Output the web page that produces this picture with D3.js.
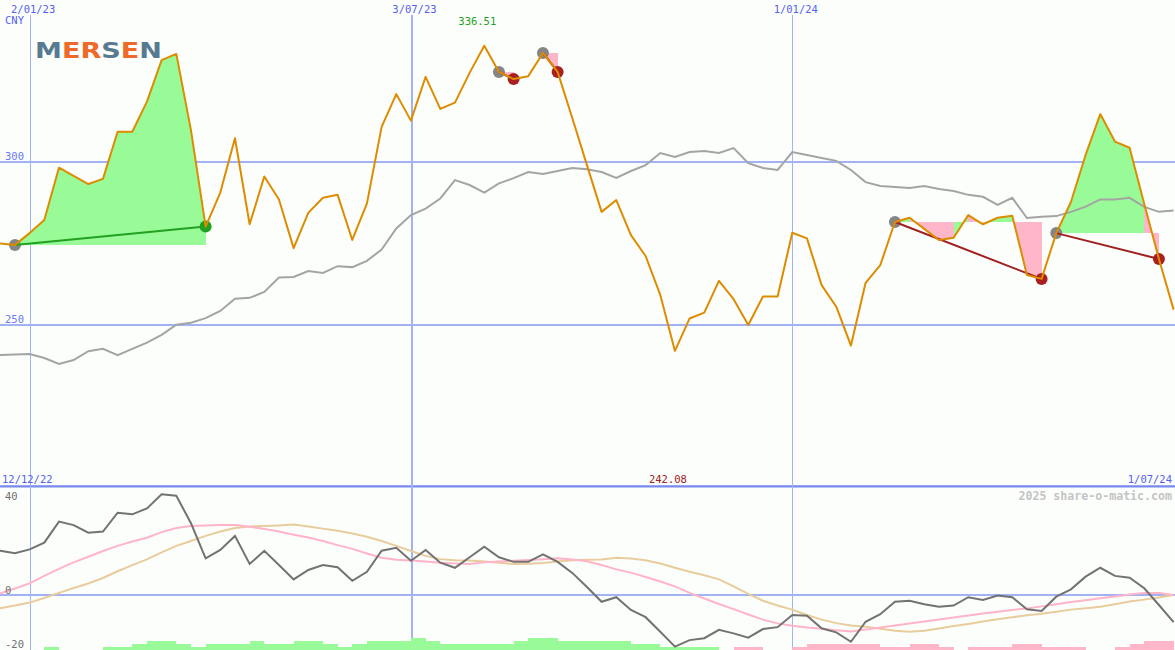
<!DOCTYPE html>
<html><head><meta charset="utf-8">
<script src="https://cdn.jsdelivr.net/npm/d3@7"></script>
<style>
html,body{margin:0;padding:0;background:#fcfefc;}
svg{display:block;}
</style></head><body>
<svg id="c" width="1175" height="650"></svg>
<script>
// ---------- data ----------
const startDate = "12/12/22";           // first weekly point
const gridDates = ["2/01/23", "3/07/23", "1/01/24"];
const priceTicks = [300, 250];
const oscTicks = [40, 0, -20];
const currency = "CNY";
const maxLabel = "336.51";
const minLabel = "242.08";
const brand = ["M", "E", "R", "S", "E", "N"];
const watermark = "2025 share-o-matic.com";

// weekly close (CNY)
const price = [274.9, 274.9, 274.5, 278.1, 282.1, 298.1, 295.6, 293.1, 294.7, 309.1,
  309.1, 318.3, 331.0, 332.9, 309.6, 280.1, 290.5, 307.1, 280.8, 295.4,
  288.4, 273.5, 284.3, 288.9, 289.8, 276.0, 287.2, 310.6, 320.6, 312.5,
  325.9, 316.1, 318.0, 327.1, 335.4, 327.4, 325.2, 326.1, 333.2, 327.4,
  313.3, 298.9, 284.6, 288.2, 277.5, 271.1, 259.2, 242.08, 252.0, 253.8,
  263.5, 257.9, 250.0, 258.7, 258.7, 278.2, 276.5, 262.2, 255.6, 243.7,
  262.9, 268.3, 281.5, 282.8, 279.4, 276.0, 276.7, 283.6, 280.8, 282.8,
  283.4, 265.3, 264.1, 278.1, 287.6, 302.0, 314.5, 306.1, 304.2, 287.0,
  270.2, 254.7];
// moving average
const avg = [240.8, 240.8, 241.0, 241.1, 239.9, 238.1, 239.3, 242.0, 242.7, 240.8,
  242.7, 244.6, 247.0, 250.1, 250.7, 252.1, 254.3, 258.0, 258.3, 260.1,
  264.5, 264.7, 266.5, 265.9, 268.0, 267.7, 269.6, 273.1, 279.5, 283.6,
  285.6, 288.7, 294.3, 292.8, 290.5, 293.3, 294.9, 296.8, 296.2, 297.1,
  298.0, 297.6, 296.8, 295.0, 297.1, 298.9, 302.6, 301.4, 302.9, 303.2,
  302.6, 304.1, 299.5, 298.0, 297.4, 302.9, 302.0, 301.1, 300.2, 297.4,
  293.7, 292.5, 292.2, 291.9, 292.5, 291.6, 291.0, 289.8, 289.2, 286.7,
  288.9, 282.7, 283.1, 283.3, 284.6, 286.2, 288.4, 288.4, 288.9, 286.1,
  284.6, 285.0];
// oscillator (lower panel)
const osc = [17.0, 16.2, 15.3, 16.7, 19.2, 27.0, 25.7, 22.9, 23.3, 30.3,
  29.7, 31.9, 37.1, 36.6, 26.4, 13.4, 16.5, 21.7, 11.3, 16.2,
  10.9, 5.6, 9.1, 10.9, 10.1, 5.1, 8.4, 16.2, 17.3, 12.5,
  16.5, 11.8, 9.9, 13.8, 17.7, 13.8, 12.1, 12.1, 14.9, 12.1,
  8.0, 2.8, -2.7, -1.0, -5.7, -8.4, -13.8, -19.3, -16.9, -16.2,
  -13.1, -14.4, -16.0, -12.8, -12.1, -7.6, -7.9, -12.5, -14.0, -17.5,
  -10.1, -7.3, -2.7, -2.3, -3.6, -4.5, -4.1, -1.0, -2.0, -0.4,
  -1.0, -5.5, -6.1, -0.8, 1.9, 6.6, 9.9, 6.9, 6.2, 2.3,
  -3.9, -10.2];
const oscFast = [-1.4, 0.4, 2.2, 4.1, 6.9, 9.5, 11.9, 14.0, 16.1, 18.0,
  19.6, 21.0, 23.1, 24.6, 25.4, 25.6, 25.7, 25.7, 25.1, 24.3,
  23.3, 22.1, 21.1, 19.8, 18.3, 16.9, 15.2, 13.6, 12.9, 12.6,
  12.2, 11.8, 11.5, 11.3, 11.9, 12.2, 12.5, 12.8, 13.1, 13.4,
  13.0, 12.3, 10.9, 9.3, 8.1, 6.5, 4.8, 3.0, 0.6, -1.5,
  -3.5, -5.4, -7.4, -9.3, -10.7, -11.6, -12.2, -12.7, -13.2, -13.7,
  -13.0, -12.2, -11.5, -10.7, -10.0, -9.3, -8.5, -7.8, -7.0, -6.4,
  -5.7, -5.2, -4.4, -3.6, -2.8, -2.1, -1.4, -0.7, 0.0, 0.6,
  0.6, -0.2];
const oscSlow = [-6.0, -5.1, -4.1, -3.0, -1.3, 0.6, 2.4, 4.1, 6.1, 8.6,
  10.9, 13.0, 15.6, 18.0, 19.8, 21.7, 23.3, 24.6, 25.2, 25.4,
  25.6, 25.9, 25.2, 24.4, 23.6, 22.6, 21.4, 19.8, 18.0, 16.1,
  14.3, 13.1, 12.7, 12.6, 12.2, 11.8, 11.3, 11.4, 11.7, 12.2,
  12.7, 12.9, 13.0, 13.6, 13.3, 12.7, 11.5, 9.9, 8.4, 7.1,
  5.6, 3.0, 0.2, -2.3, -4.1, -5.6, -7.6, -9.3, -10.6, -11.5,
  -11.9, -12.7, -13.4, -13.8, -13.4, -12.6, -11.7, -10.9, -10.0, -9.2,
  -8.4, -7.7, -7.1, -6.4, -5.6, -5.1, -4.5, -3.6, -2.6, -1.9,
  -1.1, -0.2];
// histogram strip (positive = green, negative = pink)
const hist = [0, 0, 0, 0, 1, 0, 0, 0, 1, 1,
  2, 3, 3, 2, 1, 2, 2, 2, 3, 2,
  2, 3, 3, 2, 1, 2, 3, 3, 3, 4,
  3, 2, 2, 2, 2, 2, 3, 4, 4, 3,
  3, 3, 3, 3, 2, 2, 1, 1, 1, 1,
  0, -1, -1, 0, 0, -1, -2, -2, -2, -2,
  -2, -1, -1, -2, -2, -1, 0, -1, -1, -1,
  -2, -2, -1, -1, -1, 0, 0, -1, -2, -3,
  -3, 0];
// signal segments: [start index, end index]
const signalStart = [2, 35, 38, 62, 73];
const signalEnd = [15, 36, 39, 72, 80];

// ---------- chart ----------
const W = 1175, H = 650;
const svg = d3.select("#c");
const parse = d3.timeParse("%d/%m/%y");
const t0 = parse(startDate);
const dates = price.map((_, i) => d3.timeDay.offset(t0, 7 * i));
const mono = "'DejaVu Sans Mono', monospace";

const x = d3.scaleTime().domain([dates[1], dates[dates.length - 1]]).range([0.3, 1173.6]);
const y = d3.scaleLinear().domain([250, 300]).range([325, 161.5]);
const yo = d3.scaleLinear().domain([-20, 40]).range([648.5, 486.5]);
const yh = d3.scaleLinear().domain([0, 4]).range([650, 638]);

svg.append("rect").attr("width", W).attr("height", H).attr("fill", "#fcfefc");

const gridC = "#a2b2f2";
// horizontal grid lines
svg.selectAll(".hg").data(priceTicks).join("line")
  .attr("x1", 0).attr("x2", W)
  .attr("y1", d => Math.round(y(d))).attr("y2", d => Math.round(y(d)))
  .attr("stroke", gridC).attr("stroke-width", 2);
svg.append("line").attr("x1", 0).attr("x2", W)
  .attr("y1", Math.round(yo(0))).attr("y2", Math.round(yo(0)))
  .attr("stroke", gridC).attr("stroke-width", 2);
svg.append("line").attr("x1", 0).attr("x2", W)
  .attr("y1", 486.3).attr("y2", 486.3)
  .attr("stroke", "#7888ee").attr("stroke-width", 2.2);
// vertical grid lines
const gd = gridDates.map(parse);
svg.selectAll(".vg").data(gd).join("line")
  .attr("x1", d => d.getMonth() === 0 ? Math.round(x(d)) + 0.5 : Math.round(x(d)) + 1)
  .attr("x2", d => d.getMonth() === 0 ? Math.round(x(d)) + 0.5 : Math.round(x(d)) + 1)
  .attr("y1", 15).attr("y2", H)
  .attr("stroke", gridC).attr("stroke-width", d => d.getMonth() === 0 ? 1 : 2);

// signal fills
const fills = [];
signalStart.forEach((s, j) => {
  const e = signalEnd[j], base = price[s];
  for (let i = s; i < e; i++) {
    fills.push({i, base, up: price[i + 1] > base});
  }
});
svg.append("g").attr("shape-rendering", "crispEdges").selectAll("path").data(fills).join("path")
  .attr("d", f => {
    const x0 = x(dates[f.i]), x1 = x(dates[f.i + 1]), yb = y(f.base);
    return `M${x0},${y(price[f.i])}L${x1},${y(price[f.i + 1])}L${x1},${yb}L${x0},${yb}Z`;
  })
  .attr("fill", f => f.up ? "#98fb98" : "#ffb6c8");

// moving average
const lineP = d3.line().x((d, i) => x(dates[i])).y(d => y(d));
svg.append("path").attr("d", lineP(avg)).attr("fill", "none")
  .attr("stroke", "#a4a4a4").attr("stroke-width", 2);

// signal connecting lines and dots
const sig = signalStart.map((s, j) => ({s, e: signalEnd[j], up: price[signalEnd[j]] > price[s]}));
svg.selectAll(".sd0").data(sig).join("circle")
  .attr("cx", d => x(dates[d.s])).attr("cy", d => y(price[d.s])).attr("r", 6)
  .attr("fill", "#858585");
svg.selectAll(".sd1").data(sig).join("circle")
  .attr("cx", d => x(dates[d.e])).attr("cy", d => y(price[d.e])).attr("r", 6)
  .attr("fill", d => d.up ? "#22a022" : "#a82020");
svg.selectAll(".sl").data(sig).join("line")
  .attr("x1", d => x(dates[d.s])).attr("y1", d => y(price[d.s]))
  .attr("x2", d => x(dates[d.e])).attr("y2", d => y(price[d.e]))
  .attr("stroke", d => d.up ? "#22a022" : "#a02020").attr("stroke-width", 2);

// price line
svg.append("path").attr("d", lineP(price)).attr("fill", "none")
  .attr("stroke", "#dd8c00").attr("stroke-width", 2).attr("stroke-linejoin", "round");

// lower panel: histogram strip
svg.append("g").attr("shape-rendering", "crispEdges").selectAll("rect")
  .data(hist.map((v, i) => ({v, i})).filter(d => d.v !== 0 && d.i < hist.length - 1)).join("rect")
  .attr("x", d => Math.round(x(dates[d.i])))
  .attr("width", d => Math.round(x(dates[d.i + 1])) - Math.round(x(dates[d.i])))
  .attr("y", d => yh(Math.abs(d.v)))
  .attr("height", d => 650 - yh(Math.abs(d.v)))
  .attr("fill", d => d.v > 0 ? "#98fb98" : "#ffb6c8");

const lineO = d3.line().x((d, i) => x(dates[i])).y(d => yo(d));
svg.append("path").attr("d", lineO(oscSlow)).attr("fill", "none")
  .attr("stroke", "#e8cc9c").attr("stroke-width", 2);
svg.append("path").attr("d", lineO(oscFast)).attr("fill", "none")
  .attr("stroke", "#ffb4c8").attr("stroke-width", 2);
svg.append("path").attr("d", lineO(osc)).attr("fill", "none")
  .attr("stroke", "#727272").attr("stroke-width", 2);

// ---------- text ----------
const txtC = "#5560f0";
svg.selectAll(".gl").data(gd).join("text")
  .attr("x", d => x(d) + 3.5).attr("y", 13).attr("text-anchor", "middle")
  .attr("font-family", mono).attr("font-size", 10.5).attr("fill", txtC)
  .text((d, i) => gridDates[i]);
svg.append("text").attr("x", 5).attr("y", 24).attr("font-family", mono)
  .attr("font-size", 10.5).attr("fill", txtC).text(currency);
svg.selectAll(".pt").data(priceTicks).join("text")
  .attr("x", 5).attr("y", d => Math.round(y(d)) - 2).attr("font-family", mono)
  .attr("font-size", 10.5).attr("fill", "#6a78f2").text(d => d);
svg.selectAll(".ot").data(oscTicks).join("text")
  .attr("x", 5).attr("y", d => d === 40 ? 500 : Math.round(yo(d)) - 1.5).attr("font-family", mono)
  .attr("font-size", 10.5).attr("fill", "#707070").text(d => d);

const iMax = d3.maxIndex(price), iMin = d3.minIndex(price);
svg.append("text").attr("x", x(dates[iMax]) - 7).attr("y", 25).attr("text-anchor", "middle")
  .attr("font-family", mono).attr("font-size", 10.5).attr("fill", "#22a022").text(maxLabel);
svg.append("text").attr("x", x(dates[iMin]) - 7).attr("y", 483).attr("text-anchor", "middle")
  .attr("font-family", mono).attr("font-size", 10.5).attr("fill", "#a02020").text(minLabel);

const fmt = d3.timeFormat("%d/%m/%y");
svg.append("text").attr("x", 2).attr("y", 483).attr("font-family", mono)
  .attr("font-size", 10.5).attr("fill", txtC).text(startDate);
svg.append("text").attr("x", 1172).attr("y", 483).attr("text-anchor", "end").attr("font-family", mono)
  .attr("font-size", 10.5).attr("fill", txtC)
  .text(fmt(dates[dates.length - 1]).replace(/^0/, ""));
svg.append("text").attr("x", 1172).attr("y", 500).attr("text-anchor", "end").attr("font-family", mono)
  .attr("font-size", 11.6).attr("font-weight", "bold").attr("fill", "#c4c4c4").text(watermark);

// logo
const logo = svg.append("text").attr("x", 35).attr("y", 58)
  .attr("font-family", "'DejaVu Sans', sans-serif").attr("font-weight", "bold")
  .attr("font-size", 21).attr("textLength", 127).attr("lengthAdjust", "spacingAndGlyphs");
const brandC = ["#587a90", "#ee6a2a", "#ee6a2a", "#587a90", "#ee6a2a", "#587a90"];
logo.selectAll("tspan").data(brand).join("tspan").attr("fill", (d, i) => brandC[i]).text(d => d);
</script>
</body></html>
